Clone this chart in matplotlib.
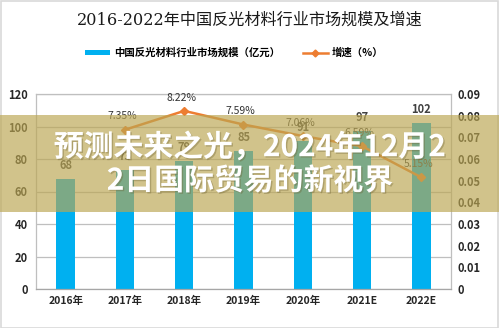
import matplotlib
matplotlib.use("Agg")
import matplotlib.pyplot as plt
from matplotlib.patches import Rectangle, Patch
from matplotlib.lines import Line2D
import matplotlib.patheffects as pe
import numpy as np

plt.rcParams['font.family'] = ['Noto Sans CJK SC', 'DejaVu Sans']

categories = ["2016年", "2017年", "2018年", "2019年", "2020年", "2021E", "2022E"]
market_size = [68, 73, 79, 85, 91, 97, 102]
growth = [None, 0.0735, 0.0822, 0.0759, 0.0706, 0.0659, 0.0515]
growth_labels = ["", "7.35%", "8.22%", "7.59%", "7.06%", "6.59%", "5.15%"]
left_ticks = [0, 20, 40, 60, 80, 100, 120]
right_ticks = [0, 0.01, 0.02, 0.03, 0.04, 0.05, 0.06, 0.07, 0.08, 0.09]
right_tick_labels = ["0", "0.01", "0.02", "0.03", "0.04", "0.05", "0.06", "0.07", "0.08", "0.09"]
title = "2016-2022年中国反光材料行业市场规模及增速"
legend_bar = "中国反光材料行业市场规模（亿元）"
legend_line = "增速（%）"
overlay_text = "预测未来之光，2024年12月2\n2日国际贸易的新视界"

BLUE = "#00B0F0"
ORANGE = "#ED7D31"
GRID = "#BFBFBF"

W, H = 499, 328
fig = plt.figure(figsize=(W / 100, H / 100), dpi=100)
fig.patch.set_facecolor("white")

ax = fig.add_axes([36 / W, 1 - 289 / H, (451 - 36) / W, (289 - 94) / H])
x = np.arange(len(categories))
bars = ax.bar(x, market_size, width=0.31, color=BLUE, zorder=2)
ax.set_xlim(-0.5, len(categories) - 0.5)
ax.set_ylim(0, 120)
ax.set_yticks(left_ticks)
ax.yaxis.grid(True, color=GRID, linewidth=0.9, zorder=0)
ax.set_axisbelow(True)
ax.set_xticks(x)
ax.set_xticklabels(categories, fontsize=7.5, fontweight="bold", color="#262626")
ax.tick_params(axis="x", length=0, pad=5)
ax.tick_params(axis="y", length=0, pad=6, labelsize=8, labelcolor="#262626")
for lab in ax.get_yticklabels():
    lab.set_fontweight("bold")
for s in ax.spines.values():
    s.set_color(GRID)
    s.set_linewidth(0.9)
ax.spines["bottom"].set_color("#A6A6A6")

for xi, v in zip(x, market_size):
    ax.annotate(str(v), (xi, v), xytext=(0, 5), textcoords="offset points",
                ha="center", va="bottom", fontsize=8, fontweight="bold", color="#404040")

ax2 = ax.twinx()
ax2.set_ylim(0, 0.09)
ax2.set_yticks(right_ticks)
ax2.set_yticklabels(right_tick_labels, fontsize=8, fontweight="bold", color="#262626")
ax2.tick_params(axis="y", length=0, pad=5)
for s in ax2.spines.values():
    s.set_visible(False)

gx = [xi for xi, g in zip(x, growth) if g is not None]
gy = [g for g in growth if g is not None]
ax2.plot(gx, gy, color=ORANGE, linewidth=1.8, marker="D", markersize=4, zorder=3)
for xi, g, lab in zip(x, growth, growth_labels):
    if g is None:
        continue
    ax2.annotate(lab, (xi, g), xytext=(-2, 6), textcoords="offset points",
                 ha="center", va="bottom", fontsize=7.5, color="#333333")

fig.text(250 / W, 1 - 20 / H, title, ha="center", va="center", fontsize=11.6,
         color="#1a1a1a", family=["DejaVu Serif", "Noto Sans CJK SC"])

handles = [Patch(facecolor=BLUE, edgecolor="none"),
           Line2D([0], [0], color=ORANGE, linewidth=1.8, marker="D", markersize=3.5)]
fig.legend(handles, [legend_bar, legend_line], loc="center",
           bbox_to_anchor=(234 / W, 1 - 53 / H), ncol=2, frameon=False,
           prop={"size": 7.5, "weight": "bold"}, handlelength=2.4,
           handleheight=0.45, handletextpad=0.4, columnspacing=2.2)

# outer light border
fig.patches.append(Rectangle((0.5 / W, 0.5 / H), (W - 1.5) / W, (H - 1.5) / H,
                             transform=fig.transFigure, fill=False,
                             edgecolor="#D9D9D9", linewidth=1.2, zorder=4))

# khaki overlay band
fig.patches.append(Rectangle((0, 1 - 212 / H), 1, (212 - 115) / H,
                             transform=fig.transFigure, facecolor=(187 / 255, 166 / 255, 82 / 255),
                             alpha=0.667, edgecolor="none", zorder=5))

fig.text(250 / W, 1 - 164 / H, overlay_text, ha="center", va="center", fontsize=21.5,
         fontweight="bold", color="white", linespacing=1.15, zorder=6,
         path_effects=[pe.withSimplePatchShadow(offset=(1, -1), shadow_rgbFace="#6b5f30", alpha=0.35)])

fig.savefig("out.png", dpi=100)
